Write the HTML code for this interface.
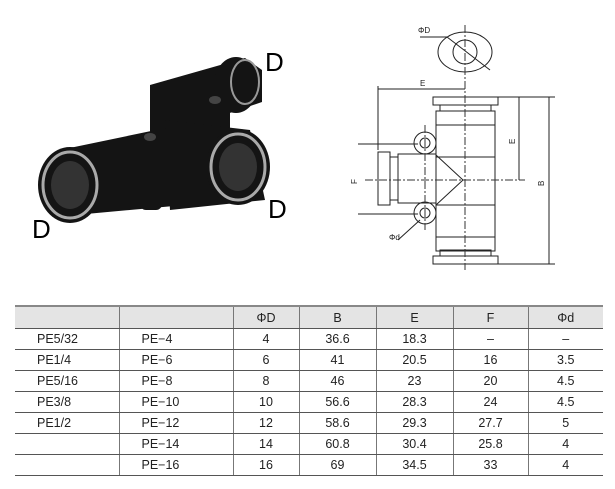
<!DOCTYPE html>
<html><head><meta charset="utf-8"><style>
body{margin:0;width:615px;height:489px;background:#fff;overflow:hidden;font-family:"Liberation Sans",sans-serif;position:relative}
table{position:absolute;left:15px;top:305px;border-collapse:collapse;font-size:12.5px;color:#222}
td{height:20px;border-top:1px solid #555;border-bottom:1px solid #555;padding:0;text-align:center}
td+td{border-left:1px solid #777}
td.l{text-align:left;padding-left:22px}
tr.h td{background:#e4e4e4;height:21px;border-top:2px solid #888}
.D{position:absolute;font-size:26px;color:#000}
</style></head><body>
<svg width="615" height="300" style="position:absolute;left:0;top:0">
<!-- photo -->
<g fill="#141414">
<path d="M150 85 L245 58 L262 70 L262 102 L215 118 L205 145 L150 140 Z"/>
<ellipse cx="236" cy="85" rx="22" ry="28"/>
<rect x="150" y="95" width="80" height="60" rx="10"/>
<path d="M60 150 L180 125 L185 205 L75 215 Z"/>
<path d="M165 120 L250 130 L265 200 L170 210 Z"/>
<ellipse cx="70" cy="185" rx="32" ry="38"/>
<ellipse cx="238" cy="167" rx="32" ry="38"/>
<rect x="140" y="135" width="22" height="75" rx="6"/>
</g>
<ellipse cx="70" cy="185" rx="27" ry="33" fill="none" stroke="#aaa" stroke-width="3"/>
<ellipse cx="70" cy="185" rx="19" ry="24" fill="#333"/>
<ellipse cx="238" cy="167" rx="27" ry="33" fill="none" stroke="#aaa" stroke-width="3"/>
<ellipse cx="238" cy="167" rx="19" ry="24" fill="#333"/>
<ellipse cx="245" cy="82" rx="14" ry="22" fill="none" stroke="#999" stroke-width="2"/>
<ellipse cx="215" cy="100" rx="6" ry="4" fill="#444"/>
<ellipse cx="150" cy="137" rx="6" ry="4" fill="#444"/>
<!-- drawing -->
<g fill="none" stroke="#222" stroke-width="1">
<ellipse cx="465" cy="52" rx="27" ry="20"/>
<circle cx="465" cy="52" r="12"/>
<line x1="420" y1="37" x2="447" y2="37"/><line x1="447" y1="37" x2="490" y2="70"/>
<rect x="433" y="97" width="65" height="8"/>
<rect x="440" y="105" width="51" height="6"/>
<rect x="436" y="111" width="59" height="140"/>
<rect x="440" y="250" width="51" height="6"/>
<rect x="433" y="256" width="65" height="8"/>
<line x1="436" y1="125" x2="495" y2="125"/><line x1="436" y1="157" x2="495" y2="157"/>
<line x1="436" y1="205" x2="495" y2="205"/><line x1="436" y1="237" x2="495" y2="237"/>
<rect x="378" y="152" width="12" height="53"/>
<rect x="390" y="157" width="8" height="43"/>
<rect x="398" y="154" width="38" height="49"/>
<circle cx="425" cy="143" r="11"/><circle cx="425" cy="143" r="5"/>
<circle cx="425" cy="213" r="11"/><circle cx="425" cy="213" r="5"/>
<path d="M436 155 L463 180 L436 205"/>
<line x1="358" y1="144" x2="418" y2="144"/><line x1="358" y1="214" x2="418" y2="214"/>
<line x1="378" y1="86" x2="378" y2="150"/>
<line x1="378" y1="89" x2="465" y2="89"/>
<line x1="498" y1="97" x2="555" y2="97"/><line x1="498" y1="264" x2="555" y2="264"/>
<line x1="519" y1="97" x2="519" y2="180"/>
<line x1="549" y1="97" x2="549" y2="264"/>
<line x1="398" y1="240" x2="420" y2="220"/>
</g>
<g stroke="#333" stroke-dasharray="8,2,2,2" fill="none">
<line x1="465" y1="25" x2="465" y2="270"/>
<line x1="365" y1="180" x2="525" y2="180"/>
<line x1="425" y1="125" x2="425" y2="230"/>
</g>
<g font-size="8" fill="#222">
<text x="418" y="33">ΦD</text><text x="420" y="86">E</text>
<text x="389" y="240">Φd</text>
<text x="350" y="183" transform="rotate(-90 354 180)">F</text>
<text x="509" y="142" transform="rotate(-90 513 140)">E</text>
<text x="538" y="184" transform="rotate(-90 542 182)">B</text>
</g>
</svg>
<div class="D" style="left:265px;top:47px">D</div>
<div class="D" style="left:268px;top:194px">D</div>
<div class="D" style="left:32px;top:214px">D</div>
<table>
<colgroup><col style="width:104px"><col style="width:114px"><col style="width:66px"><col style="width:77px"><col style="width:77px"><col style="width:75px"><col style="width:75px"></colgroup>
<tr class="h"><td></td><td></td><td>ΦD</td><td>B</td><td>E</td><td>F</td><td>Φd</td></tr>
<tr><td class="l">PE5/32</td><td class="l">PE−4</td><td>4</td><td>36.6</td><td>18.3</td><td>–</td><td>–</td></tr>
<tr><td class="l">PE1/4</td><td class="l">PE−6</td><td>6</td><td>41</td><td>20.5</td><td>16</td><td>3.5</td></tr>
<tr><td class="l">PE5/16</td><td class="l">PE−8</td><td>8</td><td>46</td><td>23</td><td>20</td><td>4.5</td></tr>
<tr><td class="l">PE3/8</td><td class="l">PE−10</td><td>10</td><td>56.6</td><td>28.3</td><td>24</td><td>4.5</td></tr>
<tr><td class="l">PE1/2</td><td class="l">PE−12</td><td>12</td><td>58.6</td><td>29.3</td><td>27.7</td><td>5</td></tr>
<tr><td></td><td class="l">PE−14</td><td>14</td><td>60.8</td><td>30.4</td><td>25.8</td><td>4</td></tr>
<tr><td></td><td class="l">PE−16</td><td>16</td><td>69</td><td>34.5</td><td>33</td><td>4</td></tr>
</table>
</body></html>
